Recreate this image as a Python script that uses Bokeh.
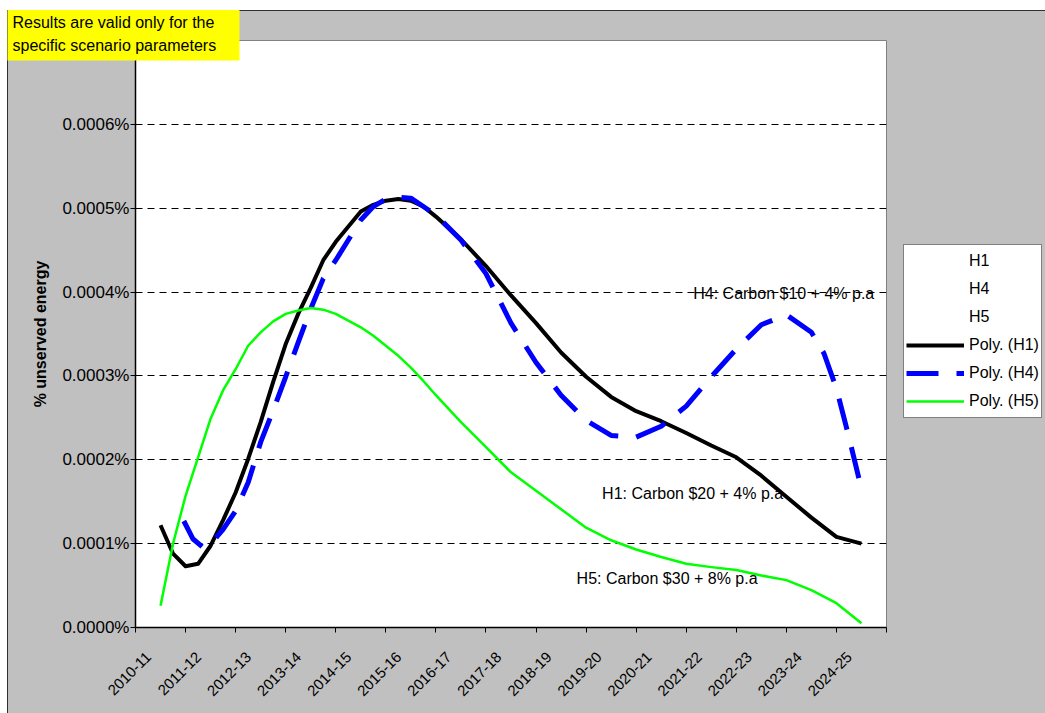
from math import pi
from bokeh.plotting import figure
from bokeh.models import (Range1d, FixedTicker, PrintfTickFormatter, CustomJSTickFormatter,
                          Legend, LegendItem, Label)
from bokeh.core.properties import value
from bokeh.embed import file_html
from bokeh.resources import INLINE

FONT = "Liberation Sans"

# ---------------- data ----------------
categories = ["2010-11", "2011-12", "2012-13", "2013-14", "2014-15", "2015-16", "2016-17",
              "2017-18", "2018-19", "2019-20", "2020-21", "2021-22", "2022-23", "2023-24",
              "2024-25"]

# positions along the category axis (0.5 = centre of "2010-11")
poly_x = [0.5, 0.75, 1.0, 1.25, 1.5, 1.75, 2.0, 2.25, 2.5, 2.75, 3.0, 3.25, 3.5, 3.75,
          4.0, 4.5, 4.75, 5.0, 5.25, 5.5, 5.75, 6.0, 6.5, 7.0, 7.5, 8.0, 8.5, 9.0, 9.5,
          10.0, 10.5, 11.0, 11.5, 12.0, 12.5, 13.0, 13.5, 14.0, 14.5]

# trend values, in units of 0.0001 %
poly_h1 = [1.22, 0.88, 0.73, 0.76, 0.975, 1.28, 1.61, 2.01, 2.45, 2.93, 3.38, 3.74, 4.05, 4.38,
           4.60, 4.96, 5.04, 5.09, 5.11, 5.09, 5.02, 4.90, 4.63, 4.31, 3.96, 3.63, 3.28, 2.99,
           2.75, 2.58, 2.46, 2.32, 2.17, 2.03, 1.81, 1.56, 1.31, 1.08, 1.00]

poly_h5 = [0.26, 1.00, 1.57, 2.03, 2.49, 2.83, 3.08, 3.36, 3.52, 3.65, 3.74, 3.78, 3.81, 3.79,
           3.74, 3.58, 3.48, 3.36, 3.24, 3.10, 2.94, 2.77, 2.45, 2.15, 1.85, 1.63, 1.41, 1.19,
           1.04, 0.93, 0.84, 0.76, 0.72, 0.685, 0.62, 0.565, 0.445, 0.29, 0.05]

poly_h4_x = [0.965, 1.15, 1.35, 1.5, 1.75, 2.0, 2.25, 2.5, 2.75, 3.0, 3.25, 3.5, 3.75, 4.0,
             4.5, 4.75, 5.0, 5.25, 5.5, 5.75, 6.0, 6.5, 7.0, 7.5, 8.0, 8.5, 9.0, 9.5, 10.0,
             10.5, 11.0, 11.5, 12.0, 12.5, 13.0, 13.5, 13.75, 14.0, 14.25, 14.5]
poly_h4 = [1.27, 1.055, 0.955, 0.995, 1.17, 1.39, 1.73, 2.21, 2.59, 2.99, 3.40, 3.80, 4.16, 4.38,
           4.86, 5.02, 5.11, 5.13, 5.12, 5.02, 4.92, 4.62, 4.22, 3.63, 3.16, 2.77, 2.47, 2.29,
           2.27, 2.40, 2.64, 2.99, 3.32, 3.61, 3.73, 3.52, 3.27, 2.85, 2.27, 1.65]

y_ticks = [0.0, 0.0001, 0.0002, 0.0003, 0.0004, 0.0005, 0.0006]
grid_ticks = [0.0001, 0.0002, 0.0003, 0.0004, 0.0005, 0.0006]

note_lines = ["Results are valid only for the", "specific scenario parameters"]

UNIT = 0.0001
h1_y = [v * UNIT for v in poly_h1]
h4_y = [v * UNIT for v in poly_h4]
h5_y = [v * UNIT for v in poly_h5]

# ---------------- figure ----------------
FW, FH = 751, 587
X_MAX, Y_MAX = len(categories), 0.0007
p = figure(frame_width=FW, frame_height=FH, output_backend="svg", toolbar_location=None,
           x_range=Range1d(0, X_MAX), y_range=Range1d(0, Y_MAX),
           min_border_left=128, min_border_right=159, min_border_top=30, min_border_bottom=86,
           background_fill_color="white", border_fill_color="#C0C0C0",
           outline_line_color="#808080", margin=(10, 0, 0, 7))
p.styles = {"outline": "1px solid black", "outline-offset": "-1px"}

# helpers: pixel offsets (relative to the frame's bottom-left) -> data units
def px_x(px):
    return px * X_MAX / FW

def px_y(px):
    return px * Y_MAX / FH

# x axis
xa = p.xaxis[0]
xa.ticker = FixedTicker(ticks=[i + 0.26 for i in range(len(categories))],
                        minor_ticks=list(range(len(categories) + 1)))
xa.formatter = CustomJSTickFormatter(args=dict(cats=categories),
                                     code="return cats[Math.floor(tick)];")
xa.major_label_orientation = pi / 4
xa.major_tick_line_color = None
xa.major_tick_out = 0
xa.major_tick_in = 0
xa.minor_tick_line_color = "black"
xa.minor_tick_in = 0
xa.minor_tick_out = 5
xa.axis_line_color = "black"
xa.axis_line_width = 1.5
xa.major_label_text_font = FONT
xa.major_label_text_font_size = "15px"
xa.major_label_text_color = "black"
xa.major_label_standoff = 22

# y axis
ya = p.yaxis[0]
ya.ticker = FixedTicker(ticks=y_ticks)
ya.formatter = PrintfTickFormatter(format="%.4f%%")
ya.major_tick_in = 0
ya.major_tick_out = 5
ya.minor_tick_line_color = None
ya.axis_line_color = "black"
ya.axis_line_width = 1.5
ya.major_label_text_font = FONT
ya.major_label_text_font_size = "17px"
ya.major_label_text_color = "black"
ya.major_label_standoff = 1
ya.axis_label = "% unserved energy"
ya.axis_label_text_font = FONT
ya.axis_label_text_font_size = "16px"
ya.axis_label_text_font_style = "bold"
ya.axis_label_text_color = "black"
ya.axis_label_standoff = 10

p.xgrid.visible = False
p.ygrid.ticker = FixedTicker(ticks=grid_ticks)
p.ygrid.grid_line_color = "black"
p.ygrid.grid_line_dash = "7 5"
p.ygrid.grid_line_width = 1

# invisible data series (legend only)
d_h1 = p.line([], [], line_alpha=0)
d_h4 = p.line([], [], line_alpha=0)
d_h5 = p.line([], [], line_alpha=0)

# trend lines
r_h1 = p.line(poly_x, h1_y, line_color="black", line_width=4, line_join="round")
r_h4 = p.line(poly_h4_x, h4_y, line_color="#0000FF", line_width=5, line_dash="32 18")
r_h5 = p.line(poly_x, h5_y, line_color="#00FF00", line_width=2.5, line_join="round")

legend = Legend(items=[
    LegendItem(label="H1", renderers=[d_h1]),
    LegendItem(label="H4", renderers=[d_h4]),
    LegendItem(label="H5", renderers=[d_h5]),
    LegendItem(label="Poly. (H1)", renderers=[r_h1]),
    LegendItem(label="Poly. (H4)", renderers=[r_h4]),
    LegendItem(label="Poly. (H5)", renderers=[r_h5]),
], location=(17, 209))
legend.background_fill_color = "white"
legend.background_fill_alpha = 1
legend.border_line_color = "black"
legend.border_line_width = 1
legend.padding = 2
legend.spacing = 0
legend.margin = 0
legend.glyph_width = 58
legend.glyph_height = 28
legend.label_height = 28
legend.label_standoff = 5
legend.label_text_font = FONT
legend.label_text_font_size = "16px"
legend.label_text_color = "black"
p.add_layout(legend, "right")

# annotations
ann_font = dict(text_font=FONT, text_font_size="16px", text_color="black",
                text_align="left", text_baseline="middle")
p.add_layout(Label(x=11.14, y=0.000398, text="H4: Carbon $10 + 4% p.a", **ann_font))
p.add_layout(Label(x=9.32, y=0.000160, text="H1: Carbon $20 + 4% p.a", **ann_font))
p.add_layout(Label(x=8.81, y=0.0000584, text="H5: Carbon $30 + 8% p.a", **ann_font))

# yellow note in the top-left corner (drawn on the overlay level, outside the frame)
p.quad(left=[px_x(-128)], right=[px_x(104)], bottom=[px_y(567)], top=[px_y(617.5)],
       fill_color="#FFFF00", line_color=None, level="overlay")
p.text(x=[px_x(-123), px_x(-123)], y=[px_y(605), px_y(582)], text=note_lines,
       text_font=value(FONT), text_font_size="16px", text_color="black",
       text_align="left", text_baseline="middle", level="overlay")

open("out.html", "w").write(file_html(p, INLINE))
